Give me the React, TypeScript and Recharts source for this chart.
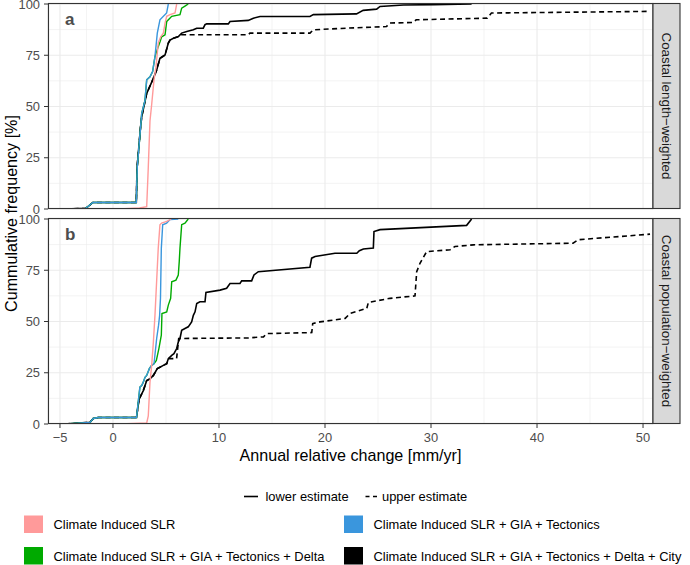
import React from "react";
import { LineChart, Line, XAxis, YAxis, CartesianGrid } from "recharts";

type Pt = [number, number];

// axis breaks
const xMajor = [-5, 0, 10, 20, 30, 40, 50];
const xMinor = [-2.5, 5, 15, 25, 35, 45];
const yMajor = [0, 25, 50, 75, 100];
const yMinor = [12.5, 37.5, 62.5, 87.5];
const xDomain: [number, number] = [-6.13, 50.94];

const facetLabels = ["Coastal length\u2212weighted", "Coastal population\u2212weighted"];
const panelTags = ["a", "b"];

const seriesNames = [
  "Climate Induced SLR",
  "Climate Induced SLR + GIA + Tectonics",
  "Climate Induced SLR + GIA + Tectonics + Delta",
  "Climate Induced SLR + GIA + Tectonics + Delta + City",
];
const seriesColors = ["#FF9A9A", "#3A96DD", "#00AA00", "#000000"];

// panel a: coastal length-weighted
const aSlr: Pt[] = [[0.66,0],[2.5,0.5],[3.18,1.1],[3.33,20.4],[3.49,43],[3.65,51],[3.87,63],[4.06,69.4],[4.27,81],[4.5,84],[4.75,85.8],[4.91,90.7],[5.07,94],[5.38,94.8],[5.85,95.6],[6.01,100]];
const aGia: Pt[] = [[-4.53,0],[-2.6,0.3],[-2.36,1.2],[-1.89,3.2],[2.2,3.2],[2.29,20.4],[2.71,46.6],[3.02,53],[3.18,63],[3.49,64.5],[3.74,67],[3.96,74.3],[4.18,85.8],[4.43,92.3],[5.06,95.6],[5.22,100]];
const aDelta: Pt[] = [[-4.53,0],[-2.6,0.3],[-2.36,1.2],[-1.89,3.2],[2.2,3.2],[2.29,20.4],[2.71,46.6],[3.02,53],[3.18,63],[3.49,64.5],[3.74,67],[3.96,74.3],[4.27,79.2],[4.43,81.5],[4.59,84],[4.91,85],[5.07,91.5],[5.54,94],[6.32,94.8],[6.48,98],[6.79,99],[7.1,100]];
const aCityLo: Pt[] = [[-4.53,0],[-2.6,0.3],[-2.36,1.2],[-1.89,3.2],[2.2,3.2],[2.27,20],[2.6,40],[2.71,45],[3.18,56.4],[3.81,63.7],[4.12,67.8],[4.43,73.5],[4.91,75.1],[5.22,80.9],[5.38,82.4],[5.7,83.3],[6.17,84.1],[6.48,85.8],[6.96,86.6],[7.58,87.4],[7.9,88.2],[8.52,88.2],[8.68,89.9],[8.84,90.3],[10.88,90.3],[11.04,91.5],[12.76,92],[13.24,93.1],[13.87,93.9],[18.58,93.9],[18.9,94.8],[22.97,95.2],[23.6,96.9],[24.87,97.5],[25.19,98.8],[27.4,99.5],[30.22,99.7],[33.83,100]];
const aCityHi: Pt[] = [[-4.53,0],[-2.6,0.3],[-2.36,1.2],[-1.89,3.2],[2.2,3.2],[2.27,20],[2.6,40],[2.71,45],[3.18,56.4],[3.81,63.7],[4.12,67.8],[4.43,73.5],[4.91,75.1],[5.22,80.9],[5.38,82.4],[5.7,83.3],[6.17,84.1],[6.48,85],[12.76,85],[12.92,85.8],[18.58,85.8],[18.9,87.4],[22.0,88.2],[25.8,89],[26.1,90.7],[28.3,91],[28.6,92.3],[35.3,93.1],[35.7,95.6],[50.66,96.4]];

// panel b: coastal population-weighted
const bSlr: Pt[] = [[0.66,0],[3.18,0.5],[3.33,4],[3.49,20.4],[3.65,28.6],[3.81,40],[3.96,53],[4.27,85.8],[4.43,97.2],[4.59,98],[5.07,98.8],[5.5,100]];
const bGia: Pt[] = [[-4.53,0],[-2.17,0.8],[-1.86,2.7],[-1.39,3.2],[2.22,3.2],[2.54,18],[2.71,18.8],[2.86,20.4],[3.02,22.8],[3.18,23.7],[3.43,27],[3.65,28.6],[3.87,29.4],[4.12,41.7],[4.3,48.2],[4.4,53],[4.48,61.3],[4.56,85.8],[4.69,97.2],[5.06,98],[5.38,99.7],[6.16,100]];
const bDelta: Pt[] = [[-4.53,0],[-2.17,0.8],[-1.86,2.7],[-1.39,3.2],[2.22,3.2],[2.54,18],[2.71,18.8],[2.86,20.4],[3.02,22.8],[3.18,23.7],[3.43,27],[3.65,28.6],[3.87,29.4],[4.09,31],[4.33,36.8],[4.56,43.3],[4.62,53.9],[5.07,54.7],[5.22,58],[5.44,61.3],[5.54,69.4],[5.94,70.2],[6.16,72.7],[6.25,79.2],[6.32,85.8],[6.48,97.2],[6.79,98],[7.1,100]];
const bCityLo: Pt[] = [[-4.53,0],[-2.17,0.8],[-1.86,2.7],[-1.39,3.2],[2.22,3.2],[2.4,10],[2.48,12.3],[2.71,14.7],[2.86,16.3],[3.18,21.2],[3.49,22],[3.81,23.7],[4.18,27],[4.43,27.7],[4.75,28.6],[5.07,29.4],[5.22,31.9],[5.54,33.5],[5.75,34.3],[6.01,36.8],[6.16,40],[6.32,41.7],[6.48,45.7],[6.79,46.6],[7.1,47.4],[7.42,49.8],[7.58,53],[7.74,54.7],[7.9,58.8],[8.2,59.6],[8.68,59.6],[8.77,64.2],[10.1,65.3],[10.72,66.2],[11.04,68.5],[11.98,68.6],[12.14,69.8],[13.08,69.8],[13.3,72.7],[13.71,74.3],[18.58,76.5],[18.74,80.9],[19.06,81.7],[20.94,83.3],[23.0,83.3],[23.24,84.5],[23.62,85.4],[24.56,85.8],[24.62,93.9],[25.19,94.8],[33.36,96.9],[33.83,100]];
const bCityHi: Pt[] = [[-4.53,0],[-2.17,0.8],[-1.86,2.7],[-1.39,3.2],[2.22,3.2],[2.4,10],[2.48,12.3],[2.71,14.7],[2.86,16.3],[3.18,21.2],[3.49,22],[3.81,23.7],[4.18,27],[4.43,27.7],[4.75,28.6],[5.07,29.4],[5.22,31.9],[6.0,31.9],[6.2,41.7],[12.8,42],[14.2,42.5],[14.5,44.1],[18.75,44.6],[18.84,49],[19.53,49.8],[21.9,51.5],[22.36,53.9],[23.94,56.4],[24.09,59.3],[26.13,61.3],[28.49,62.5],[28.65,74.3],[28.96,78.4],[29.59,84.1],[31.8,85],[32.26,86.6],[34.0,87.4],[43.4,88.2],[43.9,89.9],[50.66,92.6]];

const FONT = "'Liberation Sans', Arial, Helvetica, sans-serif";
const toRows = (pts: Pt[]) => pts.map(([x, y]) => ({ x, y }));

const PLOT_LEFT = 48;
const PLOT_RIGHT = 653;
const PLOT_H = 205;
const PAD = 10;
const panelTops = [3.5, 218.5];

const fmt = (v: number) => (v < 0 ? "\u2212" + Math.abs(v) : String(v));

const XTick = (props: any) => {
  const { x, y, payload } = props;
  return (
    <text x={x} y={y + 12} textAnchor="middle" fill="#4D4D4D" fontSize={12.9} fontFamily={FONT}>
      {fmt(payload.value)}
    </text>
  );
};

const YTick = (props: any) => {
  const { x, y, payload } = props;
  return (
    <text x={x - 2} y={y} dy="0.36em" textAnchor="end" fill="#4D4D4D" fontSize={12.9} fontFamily={FONT}>
      {fmt(payload.value)}
    </text>
  );
};

type Series = { pts: Pt[]; color: string; dashed?: boolean; width: number };

function Panel({ top, showX, series }: { top: number; showX: boolean; series: Series[] }) {
  const axisH = showX ? 30 : 0;
  const bottomPad = showX ? 0 : PAD;
  return (
    <div style={{ position: "absolute", left: 0, top: top - PAD }}>
      <LineChart
        width={PLOT_RIGHT}
        height={PAD + PLOT_H + axisH + bottomPad}
        margin={{ top: PAD, right: 0, bottom: bottomPad, left: 0 }}
        style={{ overflow: "visible" }}
      >
        <XAxis
          xAxisId="x"
          type="number"
          dataKey="x"
          domain={xDomain}
          allowDataOverflow
          ticks={xMajor}
          interval={0}
          hide={!showX}
          height={axisH}
          axisLine={false}
          tickSize={4}
          tickLine={{ stroke: "#333333", strokeWidth: 1 }}
          tick={<XTick />}
        />
        <XAxis xAxisId="xm" type="number" dataKey="x" domain={xDomain} allowDataOverflow ticks={xMinor} interval={0} hide />
        <YAxis
          yAxisId="y"
          type="number"
          domain={[0, 100]}
          allowDataOverflow
          ticks={yMajor}
          interval={0}
          width={PLOT_LEFT}
          axisLine={false}
          tickSize={4}
          tickLine={{ stroke: "#333333", strokeWidth: 1 }}
          tick={<YTick />}
        />
        <YAxis yAxisId="ym" type="number" domain={[0, 100]} allowDataOverflow ticks={yMinor} interval={0} hide />
        <CartesianGrid xAxisId="xm" yAxisId="ym" stroke="#EBEBEB" strokeWidth={0.6} />
        <CartesianGrid xAxisId="x" yAxisId="y" stroke="#EBEBEB" strokeWidth={1.1} />
        {series.map((s, i) => (
          <Line
            key={i}
            xAxisId="x"
            yAxisId="y"
            data={toRows(s.pts)}
            dataKey="y"
            type="linear"
            stroke={s.color}
            strokeWidth={s.width}
            strokeDasharray={s.dashed ? "5 3.5" : undefined}
            dot={false}
            activeDot={false}
            isAnimationActive={false}
          />
        ))}
      </LineChart>
    </div>
  );
}

const panelSeries: Series[][] = [
  [
    { pts: aCityHi, color: seriesColors[3], dashed: true, width: 1.6 },
    { pts: aCityLo, color: seriesColors[3], width: 1.6 },
    { pts: aDelta, color: seriesColors[2], width: 1.4 },
    { pts: aSlr, color: seriesColors[0], width: 1.4 },
    { pts: aGia, color: seriesColors[1], width: 1.4 },
  ],
  [
    { pts: bCityHi, color: seriesColors[3], dashed: true, width: 1.6 },
    { pts: bCityLo, color: seriesColors[3], width: 1.6 },
    { pts: bDelta, color: seriesColors[2], width: 1.4 },
    { pts: bGia, color: seriesColors[1], width: 1.4 },
    { pts: bSlr, color: seriesColors[0], width: 1.4 },
  ],
];

const legendPos = [
  { x: 24, y: 515.5 },
  { x: 344, y: 515.5 },
  { x: 24, y: 547 },
  { x: 344, y: 547 },
];

export default function App() {
  return (
    <div style={{ position: "absolute", left: 0, top: 0, width: 690, height: 565, background: "#fff", overflow: "hidden" }}>
      {panelTops.map((t, i) => (
        <Panel key={i} top={t} showX={i === 1} series={panelSeries[i]} />
      ))}
      <svg width={690} height={565} style={{ position: "absolute", left: 0, top: 0, pointerEvents: "none" }} fontFamily={FONT}>
        {panelTops.map((t, i) => (
          <g key={i}>
            <rect x={PLOT_LEFT + 0.5} y={t} width={PLOT_RIGHT - PLOT_LEFT - 0.5} height={PLOT_H} fill="none" stroke="#333333" strokeWidth={1.1} />
            <rect x={PLOT_RIGHT} y={t} width={27} height={PLOT_H} fill="#D9D9D9" stroke="#333333" strokeWidth={1.1} />
            <text
              x={666.5}
              y={t + PLOT_H / 2}
              transform={`rotate(90, 666.5, ${t + PLOT_H / 2})`}
              textAnchor="middle"
              dominantBaseline="central"
              fontSize={13.4}
              fill="#1A1A1A"
            >
              {facetLabels[i]}
            </text>
            <text x={65} y={t + 21} fontSize={17} fontWeight="bold" fill="#4D4D4D">
              {panelTags[i]}
            </text>
          </g>
        ))}
        <text x={11} y={213.5} transform="rotate(-90, 11, 213.5)" textAnchor="middle" dominantBaseline="central" fontSize={16.1} fill="#000">
          Cummulative frequency [%]
        </text>
        <text x={350.5} y={455} textAnchor="middle" dominantBaseline="central" fontSize={16.1} fill="#000">
          Annual relative change [mm/yr]
        </text>
        {/* linetype legend */}
        <line x1={244} x2={258} y1={496.5} y2={496.5} stroke="#000" strokeWidth={1.6} />
        <text x={265.5} y={496.5} dominantBaseline="central" fontSize={12.9} fill="#000">lower estimate</text>
        <line x1={365.5} x2={379} y1={496.5} y2={496.5} stroke="#000" strokeWidth={1.6} strokeDasharray="4 3.5" />
        <text x={382} y={496.5} dominantBaseline="central" fontSize={12.9} fill="#000">upper estimate</text>
        {/* colour legend */}
        {seriesNames.map((n, i) => (
          <g key={n}>
            <rect x={legendPos[i].x} y={legendPos[i].y} width={19} height={17.5} fill={seriesColors[i]} />
            <text x={legendPos[i].x + 29.5} y={legendPos[i].y + 9} dominantBaseline="central" fontSize={12.9} fill="#000">
              {n}
            </text>
          </g>
        ))}
      </svg>
    </div>
  );
}
